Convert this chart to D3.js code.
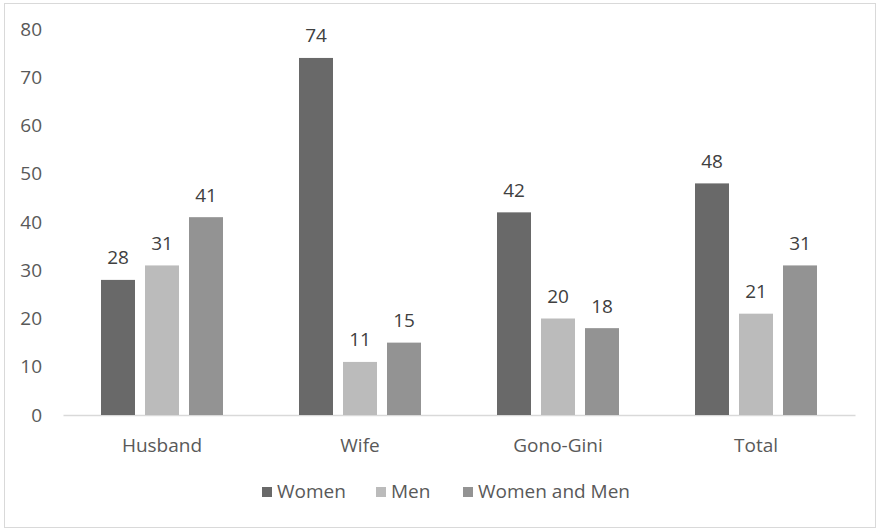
<!DOCTYPE html>
<html>
<head>
<meta charset="utf-8">
<script src="https://cdn.jsdelivr.net/npm/d3@7"></script>
<style>
  body { margin: 0; background: #fff; }
  text { font-family: "Open Sans", sans-serif; }
</style>
</head>
<body>
<div id="chart"></div>
<script>
// data
var categories = ["Husband", "Wife", "Gono-Gini", "Total"];
var seriesNames = ["Women", "Men", "Women and Men"];
var women = [28, 74, 42, 48];
var men = [31, 11, 20, 21];
var womenAndMen = [41, 15, 18, 31];
var yTicks = [0, 10, 20, 30, 40, 50, 60, 70, 80];

var colors = ["#696969", "#bbbbbb", "#939393"];

var svgWidth = 880;
var svgHeight = 530;

var margin = { top: 29, right: 25, bottom: 115, left: 63 };
var width = svgWidth - margin.left - margin.right;
var height = svgHeight - margin.top - margin.bottom;

var svg = d3.select("#chart")
  .append("svg")
  .attr("width", svgWidth)
  .attr("height", svgHeight);

// outer frame
svg.append("rect")
  .attr("x", 4.5).attr("y", 3.5)
  .attr("width", 871).attr("height", 524)
  .attr("fill", "#fff")
  .attr("stroke", "#d9d9d9");

var chartGroup = svg.append("g")
  .attr("transform", `translate(${margin.left}, ${margin.top})`);

var x0 = d3.scaleBand()
  .domain(categories)
  .range([0, width])
  .paddingInner(0)
  .paddingOuter(0);

// bars 34 wide with 10px gaps inside each band
var x1 = d3.scaleBand()
  .domain(seriesNames)
  .range([38, x0.bandwidth() - 38])
  .paddingInner(10 / 44)
  .paddingOuter(0);

var y = d3.scaleLinear()
  .domain([0, 80])
  .range([height, 0]);

// y axis labels (no line, no ticks)
var leftAxis = d3.axisLeft(y).tickValues(yTicks).tickSize(0).tickPadding(21);
var yAxis = chartGroup.append("g").call(leftAxis);
yAxis.select(".domain").remove();
yAxis.selectAll("text")
  .attr("font-size", 19)
  .attr("fill", "#595959")
  .style("font-family", "'Open Sans', sans-serif");

// x axis
var bottomAxis = d3.axisBottom(x0).tickSize(0).tickPadding(0);
var xAxis = chartGroup.append("g")
  .attr("transform", `translate(0, ${height})`)
  .call(bottomAxis);
xAxis.select(".domain").attr("stroke", "#d9d9d9").attr("stroke-width", 1.5);
xAxis.selectAll("text")
  .attr("y", 37)
  .attr("dy", null)
  .attr("font-size", 19)
  .attr("fill", "#595959")
  .style("font-family", "'Open Sans', sans-serif");

var rows = categories.map(function(c, i) {
  return { cat: c, values: [women[i], men[i], womenAndMen[i]] };
});

var groups = chartGroup.selectAll(".grp")
  .data(rows)
  .enter()
  .append("g")
  .attr("class", "grp")
  .attr("transform", d => `translate(${x0(d.cat)}, 0)`);

groups.selectAll("rect")
  .data(d => d.values.map((v, k) => ({ name: seriesNames[k], value: v, k: k })))
  .enter()
  .append("rect")
  .attr("x", d => x1(d.name))
  .attr("y", d => y(d.value))
  .attr("width", x1.bandwidth())
  .attr("height", d => height - y(d.value))
  .attr("fill", d => colors[d.k]);

groups.selectAll(".val")
  .data(d => d.values.map((v, k) => ({ name: seriesNames[k], value: v, k: k })))
  .enter()
  .append("text")
  .attr("class", "val")
  .attr("x", d => x1(d.name) + x1.bandwidth() / 2)
  .attr("y", d => y(d.value) - 15.5)
  .attr("text-anchor", "middle")
  .attr("font-size", 19)
  .attr("fill", "#404040")
  .text(d => d.value);

// legend
var legendX = [262, 376, 463];
var legend = svg.append("g");
seriesNames.forEach(function(name, k) {
  legend.append("rect")
    .attr("x", legendX[k]).attr("y", 487)
    .attr("width", 10).attr("height", 10)
    .attr("fill", colors[k]);
  legend.append("text")
    .attr("x", legendX[k] + 15).attr("y", 498)
    .attr("font-size", 19)
    .attr("fill", "#595959")
    .text(name);
});
</script>
</body>
</html>
